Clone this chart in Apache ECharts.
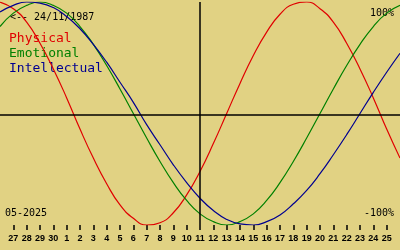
<!DOCTYPE html>
<html><head><meta charset="utf-8">
<script src="https://cdn.jsdelivr.net/npm/echarts@6/dist/echarts.min.js"></script>
<style>html,body{margin:0;padding:0;background:#e1d283;}#c{width:400px;height:250px;}</style>
</head><body><div id="c"></div>
<script>
// days shown: Apr 26 .. May 26 2025 (index 0..30); ticks at index 1..29
const dayLabels = ['27','28','29','30','1','2','3','4','5','6','7','8','9','10','11','12','13','14','15','16','17','18','19','20','21','22','23','24','25'];
const physical = [1.00,0.94,0.82,0.63,0.40,0.14,-0.14,-0.40,-0.63,-0.82,-0.94,-1.00,-0.98,-0.89,-0.73,-0.52,-0.27,0,0.27,0.52,0.73,0.89,0.98,1.00,0.94,0.82,0.63,0.40,0.14,-0.14,-0.40];
const emotional = [0.78,0.90,0.97,1.00,0.97,0.90,0.78,0.62,0.43,0.22,0,-0.22,-0.43,-0.62,-0.78,-0.90,-0.97,-1.00,-0.97,-0.90,-0.78,-0.62,-0.43,-0.22,0,0.22,0.43,0.62,0.78,0.90,0.97];
const intellectual = [0.91,0.97,1.00,0.99,0.95,0.87,0.76,0.62,0.46,0.28,0.10,-0.10,-0.28,-0.46,-0.62,-0.76,-0.87,-0.95,-0.99,-1.00,-0.97,-0.91,-0.81,-0.69,-0.54,-0.37,-0.19,0,0.19,0.37,0.54];
const todayIndex = 15;
const birthText = '<-- 24/11/1987';
const monthText = '05-2025';

const chart = echarts.init(document.getElementById('c'));
const pts = a => a.map((v,i)=>[i,v]);
const tickVals = dayLabels.map((_,i)=>i+1);
chart.setOption({
  backgroundColor:'#e1d283',
  animation:false,
  grid:{left:0,right:0,top:2,bottom:25},
  xAxis:{type:'value',min:0,max:30,interval:1,
    axisLine:{show:false,onZero:false},
    splitLine:{show:false},
    axisTick:{show:true,length:5,lineStyle:{color:'#000',width:1.5},customValues:tickVals},
    axisLabel:{show:true,margin:9,fontSize:9,fontWeight:'bold',fontFamily:'Liberation Sans',color:'#000',
      customValues:tickVals,formatter:v=>dayLabels[v-1]||''}
  },
  yAxis:{type:'value',min:-1,max:1,show:false},
  series:[
    {type:'line',data:pts(physical),smooth:true,symbol:'none',lineStyle:{color:'#e00000',width:1.2},
      markLine:{silent:true,symbol:'none',label:{show:false},lineStyle:{color:'#000',width:1.5,type:'solid'},
        data:[{yAxis:-0.012},{xAxis:todayIndex}]}},
    {type:'line',data:pts(emotional),smooth:true,symbol:'none',lineStyle:{color:'#008000',width:1.2}},
    {type:'line',data:pts(intellectual),smooth:true,symbol:'none',lineStyle:{color:'#000090',width:1.2}}
  ],
  graphic:[
    {type:'text',left:10,top:12,style:{text:birthText,font:'10px "DejaVu Sans Mono"',fill:'#000'}},
    {type:'text',left:9,top:32,style:{text:'Physical',font:'13px "DejaVu Sans Mono"',fill:'#e00000'}},
    {type:'text',left:9,top:47,style:{text:'Emotional',font:'13px "DejaVu Sans Mono"',fill:'#008000'}},
    {type:'text',left:9,top:62,style:{text:'Intellectual',font:'13px "DejaVu Sans Mono"',fill:'#000090'}},
    {type:'text',right:6,top:8,style:{text:'100%',font:'10px "DejaVu Sans Mono"',fill:'#000'}},
    {type:'text',right:6,top:208,style:{text:'-100%',font:'10px "DejaVu Sans Mono"',fill:'#000'}},
    {type:'text',left:5,top:208,style:{text:monthText,font:'10px "DejaVu Sans Mono"',fill:'#000'}}
  ]
});
</script></body></html>
